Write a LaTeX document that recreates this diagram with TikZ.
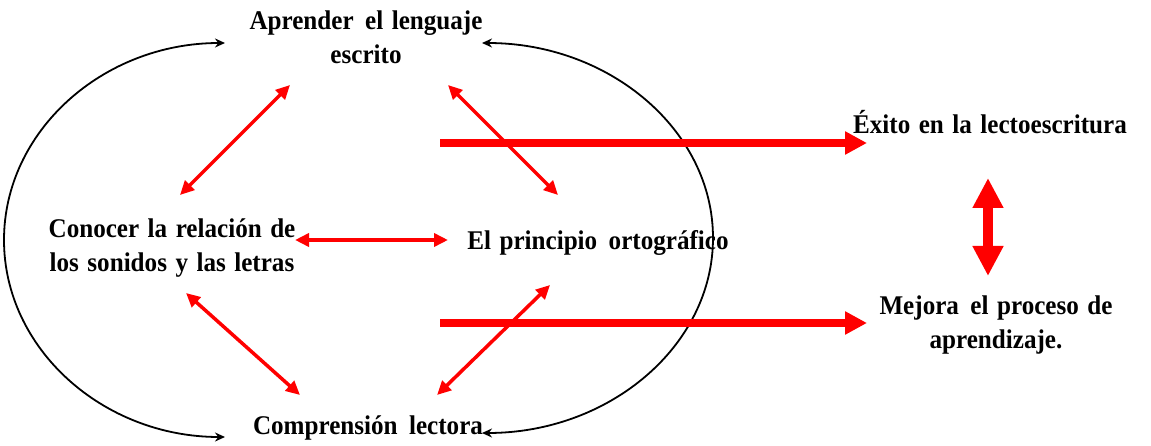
\documentclass[tikz,border=0pt]{standalone}
\usepackage{fontspec}
\setmainfont{Liberation Serif}[FakeStretch=0.93, WordSpace=1.35]
\usetikzlibrary{arrows.meta}
\begin{document}
\begin{tikzpicture}[x=1pt,y=1pt,
  lbl/.style={font=\bfseries\fontsize{27}{34}\selectfont, align=center, inner sep=0pt},
  thin red/.style={draw=red, line width=3.5pt, {Triangle[length=14pt,width=13pt]}-{Triangle[length=14pt,width=13pt]}},
  thick red/.style={draw=red, line width=8pt, -{Triangle[length=22pt,width=22pt]}},
  vert red/.style={draw=red, line width=10pt, {Triangle[length=30pt,width=29pt]}-{Triangle[length=30pt,width=29pt]}},
  blackarc/.style={draw=black, line width=1.8pt, {Stealth[length=10pt,width=9pt]}-{Stealth[length=10pt,width=9pt]}}]
\useasboundingbox (0,0) rectangle (1151,445);
% text nodes
\node[lbl] (apr) at (366,408) {Aprender\hspace{3pt} el lenguaje\\escrito};
\node[lbl] (con) at (172,197) {Conocer la relación de\\los sonidos y las letras};
\node[lbl] (ort) at (598,202) {El principio\hspace{3pt} ortográfico};
\node[lbl] (com) at (368,17) {Comprensión\hspace{3pt} lectora};
\node[lbl] (exi) at (990,323) {Éxito en la lectoescritura};
\node[lbl] (mej) at (996,120) {Mejora\hspace{3pt} el proceso de\\aprendizaje.};
% black arcs
\coordinate (lt) at (225,402);
\coordinate (rt) at (482,402);
\draw[blackarc] (lt) arc[start angle=90, end angle=270, x radius=221, y radius=197] coordinate (lb);
\draw[blackarc] (rt) arc[start angle=90, end angle=-90, x radius=231, y radius=195] coordinate (rb);
% red thin arrows
\coordinate (p1a) at (290,360); \coordinate (p1b) at (180,250);
\coordinate (p2a) at (448,360); \coordinate (p2b) at (558,250);
\coordinate (p3a) at (295,205); \coordinate (p3b) at (448,205);
\coordinate (p4a) at (186,152); \coordinate (p4b) at (300,50);
\coordinate (p5a) at (550,160); \coordinate (p5b) at (437,50);
\draw[thin red] (p1a) -- (p1b);
\draw[thin red] (p2a) -- (p2b);
\draw[thin red] (p3a) -- (p3b);
\draw[thin red] (p4a) -- (p4b);
\draw[thin red] (p5a) -- (p5b);
% thick arrows
\coordinate (s1) at (440,302); \coordinate (e1) at (867,302);
\coordinate (s2) at (440,122); \coordinate (e2) at (867,122);
\draw[thick red] (s1) -- (e1);
\draw[thick red] (s2) -- (e2);
\coordinate (v1) at (988,267); \coordinate (v2) at (988,169);
\draw[vert red] (v1) -- (v2);
\end{tikzpicture}
\end{document}
